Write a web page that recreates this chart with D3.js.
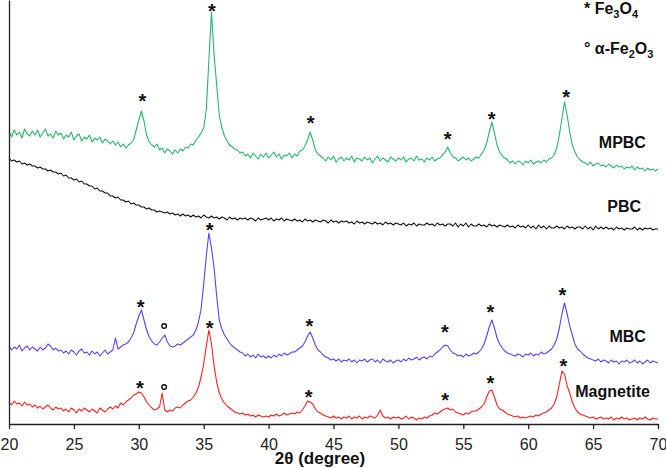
<!DOCTYPE html>
<html>
<head>
<meta charset="utf-8">
<script src="https://cdn.jsdelivr.net/npm/d3@7"></script>
<style>
  body { margin: 0; background: #fff; }
  svg text { font-family: "Liberation Sans", Arial, sans-serif; }
</style>
</head>
<body>
<div id="xrd"></div>
<script>
var width = 666;
var height = 468;

// 2theta grid: 20..70 in 0.2 degree steps
var x_start = 20;
var x_step = 0.2;
var xTicks = [20, 25, 30, 35, 40, 45, 50, 55, 60, 65, 70];

// intensities (a.u., stacked)
var mpbc = [
  293, 287, 294, 289, 292, 286, 295, 290, 288, 293,
  289, 294, 287, 291, 295, 288, 290, 286, 293, 289,
  291, 285, 289, 287, 292, 284, 288, 290, 283, 287,
  285, 289, 282, 286, 284, 287, 281, 285, 283, 280,
  283, 279, 282, 277, 280, 276, 279, 281,
  284, 294, 304, 313, 303, 289, 282, 279,
  277, 280, 274, 276, 271, 275, 273, 270, 274,
  271, 275, 273, 277, 276, 280, 279,
  284, 287, 291, 296, 314, 364, 412, 369, 339, 309, 296, 288, 283, 279, 277, 275, 274, 271,
  272, 268, 270, 266, 271, 268, 265, 270, 267, 271, 266, 269, 272, 267, 270, 265, 269, 268, 271, 266, 270, 268, 273,
  274, 278, 284, 292, 284, 274, 270, 268,
  266, 263, 267, 264, 268, 262, 265, 267, 263, 266,
  264, 268, 262, 266, 265, 263, 267, 264, 266, 261,
  265, 268, 263, 266, 264, 262, 267, 265, 263, 266,
  264, 267, 262, 265, 266, 263, 268, 264, 265, 262,
  266, 264, 267, 263, 265, 266,
  269, 272, 277, 271, 267,
  266, 263, 265, 267, 264, 266, 263, 265, 267, 266,
  270, 274, 281, 292, 302, 291, 279, 272, 268, 266,
  264, 261, 263, 260, 263, 262, 259, 263, 261, 264, 260, 262, 263, 261, 264, 262, 265, 266,
  269, 276, 289, 306, 322, 309, 292, 279, 272, 267, 264, 262,
  261, 259, 262, 258, 260, 261, 258, 259, 257, 260, 258, 256, 259, 257, 258, 255, 257, 256, 258, 254, 257, 255, 256, 253, 256, 254, 255, 253, 255
];

var pbc = [
  266, 263, 264, 262, 263, 260, 261, 259, 260, 258,
  258, 256, 257, 255, 255, 253, 254, 252, 252, 250,
  251, 248, 249, 246, 246, 244, 245, 242, 243, 240,
  240, 238, 238, 235, 236, 233, 233, 231, 231, 228,
  228, 226, 227, 224, 224, 222, 223, 220, 221, 219,
  219, 217, 217, 215, 216, 214, 214, 212, 213, 212,
  211, 212, 210, 211, 209, 210, 208, 210, 208, 209,
  207, 209, 207, 208, 206, 209, 207, 206, 208, 206,
  207, 205, 207, 206, 204, 207, 205, 206, 204, 206,
  205, 206, 204, 206, 205, 203, 206, 204, 205, 206,
  204, 206, 203, 205, 204, 206, 203, 205, 204, 203,
  205, 203, 204, 202, 205, 203, 204, 202, 204, 203,
  202, 204, 203, 201, 204, 202, 203, 201, 203, 202,
  203, 201, 202, 200, 203, 201, 202, 200, 202, 201,
  200, 202, 200, 201, 199, 202, 200, 201, 199, 201,
  200, 199, 201, 198, 200, 199, 201, 198, 200, 199,
  199, 201, 199, 200, 198, 201, 199, 200, 198, 200,
  200, 198, 201, 197, 200, 198, 201, 197, 200, 198,
  198, 200, 198, 199, 197, 200, 198, 199, 197, 199,
  198, 197, 199, 197, 198, 196, 199, 197, 198, 196,
  199, 196, 198, 195, 199, 196, 198, 195, 198, 196,
  196, 198, 196, 197, 195, 198, 196, 197, 195, 197,
  197, 195, 198, 195, 197, 194, 198, 195, 197, 195,
  197, 195, 196, 194, 197, 195, 196, 194, 196, 195,
  195, 197, 194, 196, 194, 196, 195, 196, 194, 195,
  195
];

var mbc = [
  78, 74, 77, 75, 79, 73, 76, 78, 74, 77,
  75, 73, 77, 74, 76, 80, 78, 74, 76, 73,
  74, 71, 73, 70, 74, 72, 69, 73, 75, 71,
  72, 69, 73, 70, 72, 68, 71, 74, 70, 72,
  74, 86, 75, 77, 79, 80, 82, 86, 91, 100,
  108, 114, 104, 94, 87, 83, 80, 79, 82, 86,
  89, 82, 78, 77, 78, 80, 79, 81, 83, 85,
  87, 89, 94, 102, 115, 140, 168, 191, 176, 156,
  128, 104, 95, 89, 85, 81, 78, 76, 74, 72,
  71, 68, 70, 67, 69, 66, 70, 67, 68, 66,
  68, 66, 69, 67, 70, 68, 71, 69, 70, 72,
  72, 74, 76, 78, 82, 88, 92, 86, 79, 74,
  72, 69, 67, 66, 64, 65, 63, 65, 62, 64,
  63, 65, 62, 64, 61, 64, 63, 65, 62, 64,
  65, 62, 64, 61, 65, 63, 62, 64, 61, 63,
  64, 62, 65, 63, 66, 64, 65, 67, 64, 66,
  67, 65, 68, 67, 70, 72, 74, 77, 79, 78,
  74, 71, 70, 68, 69, 67, 70, 68, 69, 71,
  70, 72, 75, 80, 88, 97, 104, 96, 86, 80,
  76, 73, 71, 70, 69, 68, 70, 69, 67, 70,
  69, 71, 68, 70, 69, 72, 70, 71, 73, 75,
  79, 85, 96, 110, 121, 110, 98, 89, 80, 75,
  73, 70, 68, 66, 65, 64, 63, 65, 62, 64,
  63, 61, 64, 62, 63, 60, 63, 62, 64, 61,
  62, 64, 61, 63, 60, 62, 64, 61, 63, 62,
  61
];

var magnetite = [
  22, 19, 23, 20, 21, 18, 22, 19, 20, 17,
  19, 16, 18, 15, 17, 19, 16, 14, 17, 15,
  16, 13, 15, 12, 16, 14, 11, 15, 13, 16,
  14, 12, 15, 13, 11, 16, 14, 12, 15, 17,
  15, 18, 16, 21, 19, 22, 24, 26, 29, 30,
  32, 31, 27, 22, 19, 16, 14, 15, 17, 31,
  14, 12, 14, 13, 16, 17, 16, 19, 21, 23,
  24, 27, 31, 37, 47, 60, 78, 94, 80, 58,
  42, 31, 25, 21, 18, 16, 14, 12, 11, 10,
  11, 9, 10, 8, 9, 7, 9, 8, 7, 8,
  7, 9, 8, 10, 8, 9, 11, 9, 10, 11,
  10, 12, 11, 14, 18, 23, 22, 20, 15, 12,
  11, 9, 8, 7, 6, 8, 6, 7, 5, 7,
  6, 8, 5, 7, 6, 8, 5, 7, 6, 8,
  7, 6, 9, 14, 8, 6, 7, 5, 7, 6,
  7, 5, 6, 8, 5, 7, 6, 4, 6, 5,
  7, 6, 8, 9, 11, 10, 12, 14, 15, 16,
  14, 15, 12, 11, 10, 9, 11, 10, 12, 13,
  13, 15, 17, 20, 27, 33, 34, 27, 19, 15,
  14, 12, 10, 9, 8, 7, 8, 6, 7, 6,
  7, 8, 7, 9, 8, 10, 11, 12, 14, 16,
  20, 27, 40, 53, 50, 38, 31, 22, 16, 12,
  10, 9, 8, 7, 6, 7, 5, 6, 7, 5,
  6, 5, 7, 4, 6, 5, 7, 5, 6, 4,
  5, 6, 4, 6, 5, 7, 5, 4, 6, 5,
  5
];

var seriesNames = ["MPBC", "PBC", "MBC", "Magnetite"];
var seriesColors = ["#27b66c", "#111111", "#5e3ff0", "#ff1f1f"];
// label anchor: right end (2theta) and baseline (a.u.)
var labelPos = [[69.07, 276], [68.69, 212], [69.07, 82], [69.38, 27]];

// peak markers: [2theta, label height]
var fe3o4Peaks = [
  [30.28, 327], [35.64, 417], [43.23, 305], [53.79, 289], [57.18, 309], [62.92, 331],
  [30.15, 121], [35.46, 198], [43.15, 102], [53.59, 96], [57.08, 116], [62.64, 133],
  [30.08, 40], [35.46, 100], [43.08, 31], [53.6, 28], [57.08, 45], [62.72, 62]
];
var fe2o3Peaks = [[31.95, 98], [31.95, 37]];

var svg = d3.select("#xrd")
  .append("svg")
  .attr("width", width)
  .attr("height", height);

var x = d3.scaleLinear().domain([20, 70]).range([9, 658]);
var y = d3.scaleLinear().domain([0, 424]).range([424, 0]);

var line = d3.line()
  .x(function(d, i){ return x(x_start + i * x_step); })
  .y(function(d){ return y(d); });

var allSeries = [mpbc, pbc, mbc, magnetite];

svg.selectAll("path.trace")
  .data(allSeries)
  .enter()
  .append("path")
  .attr("class", "trace")
  .attr("fill", "none")
  .attr("stroke", function(d, i){ return seriesColors[i]; })
  .attr("stroke-width", 1.1)
  .attr("stroke-linejoin", "round")
  .attr("d", line);

// axes
var xAxis = d3.axisBottom(x)
  .tickValues(xTicks)
  .tickSize(5)
  .tickSizeOuter(0)
  .tickPadding(10);

var gx = svg.append("g")
  .attr("transform", "translate(0," + y(0) + ")")
  .call(xAxis);
gx.select(".domain").attr("stroke", "#222").attr("stroke-width", 1.3);
gx.selectAll(".tick line").attr("stroke", "#222").attr("stroke-width", 1.3);
gx.selectAll(".tick text")
  .attr("fill", "#222")
  .style("font-size", "16px");

var gy = svg.append("g")
  .attr("transform", "translate(" + x(20) + ",0)")
  .call(d3.axisLeft(y).tickValues([]).tickSizeOuter(0));
gy.select(".domain").attr("stroke", "#222").attr("stroke-width", 1.3);

svg.append("text")
  .attr("x", 320)
  .attr("y", 464)
  .attr("text-anchor", "middle")
  .attr("font-weight", "bold")
  .attr("font-size", 17)
  .attr("fill", "#111")
  .text("2θ (degree)");

// series labels
svg.selectAll("text.series")
  .data(seriesNames)
  .enter()
  .append("text")
  .attr("class", "series")
  .attr("x", function(d, i){ return x(labelPos[i][0]); })
  .attr("y", function(d, i){ return y(labelPos[i][1]); })
  .attr("text-anchor", "end")
  .attr("font-weight", "bold")
  .attr("font-size", 16)
  .attr("fill", "#111")
  .text(function(d){ return d; });

// peak markers
svg.selectAll("text.star")
  .data(fe3o4Peaks)
  .enter()
  .append("text")
  .attr("class", "star")
  .attr("x", function(d){ return x(d[0]); })
  .attr("y", function(d){ return y(d[1]) + 11; })
  .attr("text-anchor", "middle")
  .attr("font-weight", "bold")
  .attr("font-size", 20)
  .attr("fill", "#111")
  .text("*");

svg.selectAll("circle.ring")
  .data(fe2o3Peaks)
  .enter()
  .append("circle")
  .attr("class", "ring")
  .attr("cx", function(d){ return x(d[0]); })
  .attr("cy", function(d){ return y(d[1]); })
  .attr("r", 2.3)
  .attr("fill", "none")
  .attr("stroke", "#111")
  .attr("stroke-width", 1.4);

// legend
var legend = svg.append("g")
  .attr("font-weight", "bold")
  .attr("font-size", 16)
  .attr("fill", "#111");

var l1 = legend.append("text").attr("x", 584).attr("y", 14);
l1.append("tspan").text("* Fe");
l1.append("tspan").attr("font-size", 11).attr("dy", 4).text("3");
l1.append("tspan").attr("dy", -4).text("O");
l1.append("tspan").attr("font-size", 11).attr("dy", 4).text("4");

var l2 = legend.append("text").attr("x", 584).attr("y", 54);
l2.append("tspan").text("° α-Fe");
l2.append("tspan").attr("font-size", 11).attr("dy", 4).text("2");
l2.append("tspan").attr("dy", -4).text("O");
l2.append("tspan").attr("font-size", 11).attr("dy", 4).text("3");
</script>
</body>
</html>
